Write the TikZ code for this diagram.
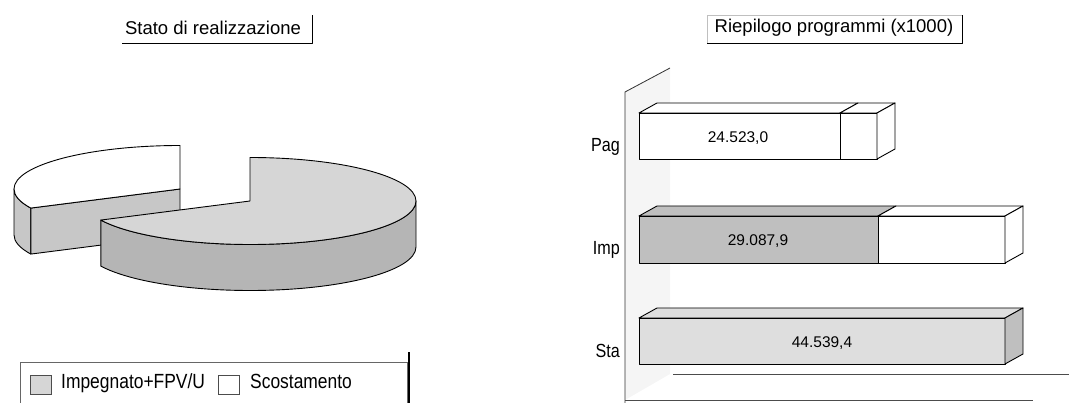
\documentclass[tikz,border=0pt]{standalone}
\usepackage{fontspec}
\setmainfont{Liberation Sans}
\newfontfamily\tallfont[FakeStretch=0.85]{Liberation Sans}
\usetikzlibrary{calc}
\pgfdeclarelayer{edgelayer}
\pgfdeclarelayer{nodelayer}
\pgfsetlayers{edgelayer,nodelayer,main}
\definecolor{pietop}{gray}{0.84}
\definecolor{pieside}{gray}{0.71}
\definecolor{sliceside}{gray}{0.78}
\definecolor{impbar}{gray}{0.75}
\definecolor{stabar}{gray}{0.87}
\definecolor{wallfill}{gray}{0.96}
\tikzstyle{charttitle}=[font=\fontsize{18.5}{20}\selectfont,anchor=base,inner sep=0pt]
\tikzstyle{barvalue}=[font=\fontsize{15.5}{17}\selectfont,anchor=base,inner sep=0pt]
\tikzstyle{category}=[font=\tallfont\fontsize{19}{21}\selectfont,anchor=base east,inner sep=0pt]
\tikzstyle{legendtext}=[font=\tallfont\fontsize{20.5}{22}\selectfont,anchor=base west,inner sep=0pt]
\tikzstyle{swatch}=[draw=black!70,line width=0.6pt]
\tikzstyle{edge}=[draw=black,line width=0.9pt,line join=round]

\begin{document}
\begin{tikzpicture}[x=1pt,y=1pt]
	\useasboundingbox (0,0) rectangle (1069,402);
	\begin{pgfonlayer}{nodelayer}
		\node [style=charttitle] (0) at (213,367) {Stato di realizzazione};
		\node [style=charttitle] (1) at (834,369) {Riepilogo programmi (x1000)};
		\node [style=legendtext] (2) at (61,13) {Impegnato+FPV/U};
		\node [style=legendtext] (3) at (250,13) {Scostamento};
		\node [style=category] (4) at (620,250) {Pag};
		\node [style=category] (5) at (620,147) {Imp};
		\node [style=category] (6) at (620,45) {Sta};
		\node [style=barvalue] (7) at (738,259) {24.523,0};
		\node [style=barvalue] (8) at (758,156) {29.087,9};
		\node [style=barvalue] (9) at (822,54) {44.539,4};
	\end{pgfonlayer}
	\begin{pgfonlayer}{edgelayer}
		% title frames
		\draw [style=edge] (122,359) -- (312,359) -- (312,387);
		\draw [black!25, line width=0.5pt] (707,359) rectangle (962,387);
		\draw [style=edge] (707,359) -- (962,359) -- (962,387);
		% exploded pie
		\coordinate (W) at (180,213);
		\coordinate (B) at (250,201);
		\draw [style=edge, fill=sliceside] ($(W)+(180:166pt and 43.5pt)$) arc[start angle=180, end angle=206, x radius=166pt, y radius=43.5pt] -- ++(0,-46) arc[start angle=206, end angle=180, x radius=166pt, y radius=43.5pt] -- cycle;
		\draw [style=edge, fill=sliceside] (W) -- ($(W)+(206:166pt and 43.5pt)$) -- ++(0,-46) -- ($(W)+(0,-46)$) -- cycle;
		\draw [style=edge, fill=white] (W) -- ($(W)+(90:166pt and 43.5pt)$) arc[start angle=90, end angle=206, x radius=166pt, y radius=43.5pt] -- cycle;
		\draw [style=edge, fill=pieside] ($(B)+(206:166pt and 43.5pt)$) arc[start angle=206, end angle=360, x radius=166pt, y radius=43.5pt] -- ++(0,-46) arc[start angle=360, end angle=206, x radius=166pt, y radius=43.5pt] -- cycle;
		\draw [style=edge, fill=pietop] (B) -- ($(B)+(90:166pt and 43.5pt)$) arc[start angle=90, end angle=-154, x radius=166pt, y radius=43.5pt] -- cycle;
		% legend
		\draw [black!60, line width=0.6pt] (20,-2) -- (20,40) -- (407,40) -- (407,-2);
		\draw [line width=2.2pt] (409,-2) -- (409,50);
		\draw [style=swatch, fill=pietop] (30,8) rectangle (51,27);
		\draw [style=swatch, fill=white] (218,8) rectangle (239,27);
		% wall and floor
		\fill [wallfill] (625,2) -- (625,310) -- (670,334) -- (670,28) -- cycle;
		\draw [black!80, line width=0.8pt] (670,334) -- (625,310) -- (625,-2);
		\draw [black!70, line width=0.7pt] (625,2) -- (1033,2);
		\draw [black!70, line width=0.7pt] (673,28) -- (1069,28);
		% Pag
		\draw [style=edge, fill=white] (639,243) rectangle (840,289);
		\draw [style=edge, fill=white] (840,243) rectangle (877,289);
		\draw [style=edge, fill=white] (639,289) -- (657,299) -- (858,299) -- (840,289) -- cycle;
		\draw [style=edge, fill=white] (840,289) -- (858,299) -- (895,299) -- (877,289) -- cycle;
		\draw [style=edge, fill=white] (877,243) -- (895,253) -- (895,299) -- (877,289) -- cycle;
		% Imp
		\draw [style=edge, fill=impbar] (639,139) rectangle (878,186);
		\draw [style=edge, fill=white] (878,139) rectangle (1005,186);
		\draw [style=edge, fill=impbar] (639,186) -- (657,196) -- (896,196) -- (878,186) -- cycle;
		\draw [style=edge, fill=white] (878,186) -- (896,196) -- (1023,196) -- (1005,186) -- cycle;
		\draw [style=edge, fill=white] (1005,139) -- (1023,149) -- (1023,196) -- (1005,186) -- cycle;
		% Sta
		\draw [style=edge, fill=stabar] (639,38) rectangle (1005,84);
		\draw [style=edge, fill=stabar] (639,84) -- (657,94) -- (1023,94) -- (1005,84) -- cycle;
		\draw [style=edge, fill=impbar] (1005,38) -- (1023,48) -- (1023,94) -- (1005,84) -- cycle;
	\end{pgfonlayer}
\end{tikzpicture}
\end{document}
